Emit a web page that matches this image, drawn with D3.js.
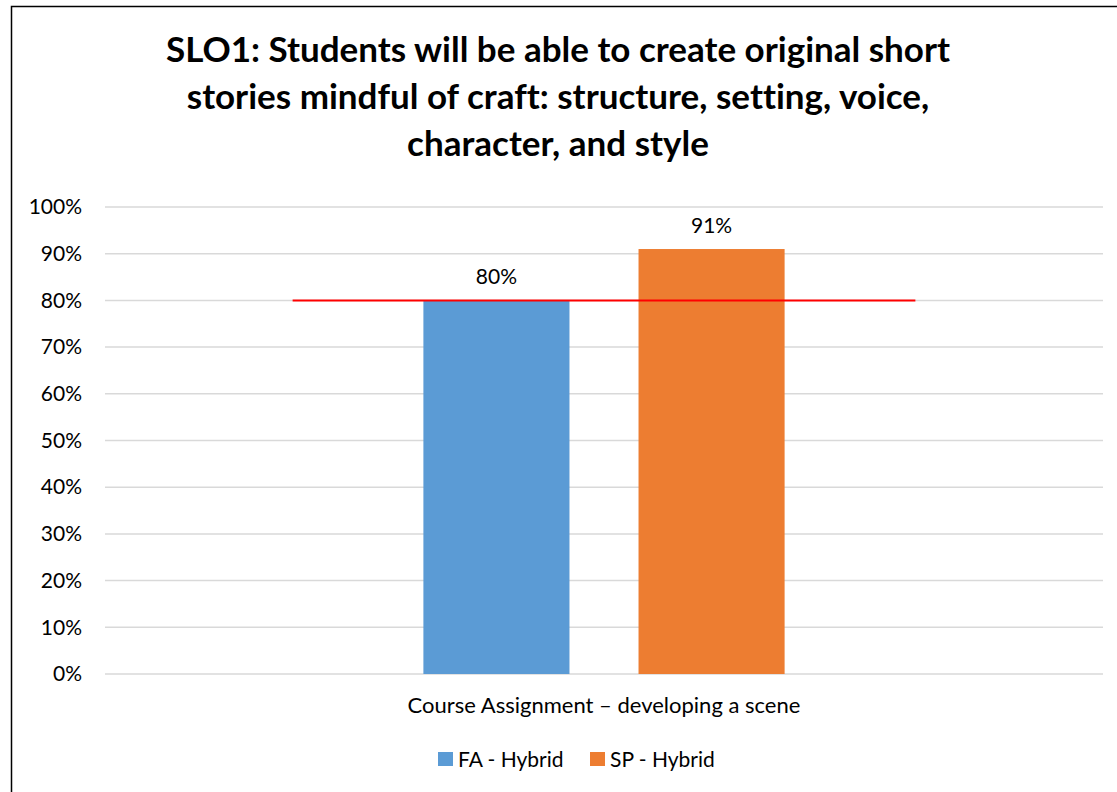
<!DOCTYPE html>
<html>
<head>
<meta charset="utf-8">
<script src="https://cdn.jsdelivr.net/npm/d3@7"></script>
<style>
  body { margin: 0; background: #fff; overflow: hidden; }
  svg { display: block; }
  text { font-family: Lato, "Open Sans", sans-serif; fill: #000; font-variant-ligatures: none; }
</style>
</head>
<body>
<script>
// chart data
var titleLines = ["SLO1: Students will be able to create original short",
                  "stories mindful of craft: structure, setting, voice,",
                  "character, and style"];
var categories = ["Course Assignment \u2013 developing a scene"];
var seriesNames = ["FA - Hybrid", "SP - Hybrid"];
var seriesValues = [0.80, 0.91];
var seriesColors = ["#5B9BD5", "#ED7D31"];
var target = 0.80;
var yTicks = [0, 0.1, 0.2, 0.3, 0.4, 0.5, 0.6, 0.7, 0.8, 0.9, 1.0];

// set the dimensions
var W = 1117, H = 792;
var plot = {left: 105, right: 1103, top: 207, bottom: 674};

var svg = d3.select("body").append("svg")
    .attr("width", W)
    .attr("height", H);

svg.append("rect").attr("width", W).attr("height", H).attr("fill", "#fff");

// chart border (runs off the right and bottom)
svg.append("rect")
    .attr("x", 11.5).attr("y", 6.5)
    .attr("width", W + 10).attr("height", H + 10)
    .attr("fill", "none").attr("stroke", "#000").attr("stroke-width", 1.5);

// title
svg.append("g").selectAll("text")
    .data(titleLines)
  .enter().append("text")
    .attr("x", 558)
    .attr("y", function(d, i) { return 62 + i * 47; })
    .attr("text-anchor", "middle")
    .style("font-size", "35px")
    .style("font-weight", "bold")
    .text(function(d) { return d; });

// scales
var y = d3.scaleLinear().domain([0, 1]).range([plot.bottom, plot.top]);
var x0 = d3.scaleBand().domain(categories).range([plot.left, plot.right]);
var x1 = d3.scaleBand().domain(seriesNames)
    .range([0, x0.bandwidth()])
    .paddingInner(0.321)
    .paddingOuter(1.48);

// gridlines
svg.append("g").selectAll("line")
    .data(yTicks)
  .enter().append("line")
    .attr("x1", plot.left).attr("x2", plot.right)
    .attr("y1", function(d) { return y(d); })
    .attr("y2", function(d) { return y(d); })
    .attr("stroke", "#d9d9d9").attr("stroke-width", 1.5);

// y axis labels
var yAxis = svg.append("g")
    .attr("transform", "translate(" + (plot.left - 23) + ",0)")
    .call(d3.axisLeft(y).tickValues(yTicks).tickFormat(d3.format(".0%")).tickSize(0).tickPadding(0));
yAxis.select(".domain").remove();
yAxis.selectAll("text")
    .style("font-size", "21px")
    .style("font-family", "Lato, sans-serif");

// bars
var barData = seriesNames.map(function(s, i) {
  return {cat: categories[0], name: s, value: seriesValues[i], color: seriesColors[i]};
});

svg.append("g").selectAll("rect")
    .data(barData)
  .enter().append("rect")
    .attr("x", function(d) { return x0(d.cat) + x1(d.name); })
    .attr("y", function(d) { return y(d.value); })
    .attr("width", x1.bandwidth())
    .attr("height", function(d) { return y(0) - y(d.value); })
    .attr("fill", function(d) { return d.color; });

// value labels
svg.append("g").selectAll("text")
    .data(barData)
  .enter().append("text")
    .attr("x", function(d) { return x0(d.cat) + x1(d.name) + x1.bandwidth() / 2; })
    .attr("y", function(d) { return y(d.value) - 16; })
    .attr("text-anchor", "middle")
    .style("font-size", "21px")
    .text(function(d) { return d3.format(".0%")(d.value); });

// target line
var bw = x0.bandwidth();
svg.append("line")
    .attr("x1", x0(categories[0]) + bw * 0.188)
    .attr("x2", x0(categories[0]) + bw * 0.812)
    .attr("y1", y(target)).attr("y2", y(target))
    .attr("stroke", "#ff0000").attr("stroke-width", 2);

// category label
svg.append("g").selectAll("text")
    .data(categories)
  .enter().append("text")
    .attr("x", function(d) { return x0(d) + bw / 2; })
    .attr("y", 713)
    .attr("text-anchor", "middle")
    .style("font-size", "22px")
    .text(function(d) { return d; });

// legend
var legendX = [438, 590];
var legend = svg.append("g").selectAll("g")
    .data(seriesNames)
  .enter().append("g")
    .attr("transform", function(d, i) { return "translate(" + legendX[i] + ",752)"; });
legend.append("rect")
    .attr("width", 15).attr("height", 14)
    .attr("fill", function(d, i) { return seriesColors[i]; });
legend.append("text")
    .attr("x", 20).attr("y", 15)
    .style("font-size", "21px")
    .text(function(d) { return d; });
</script>
</body>
</html>
